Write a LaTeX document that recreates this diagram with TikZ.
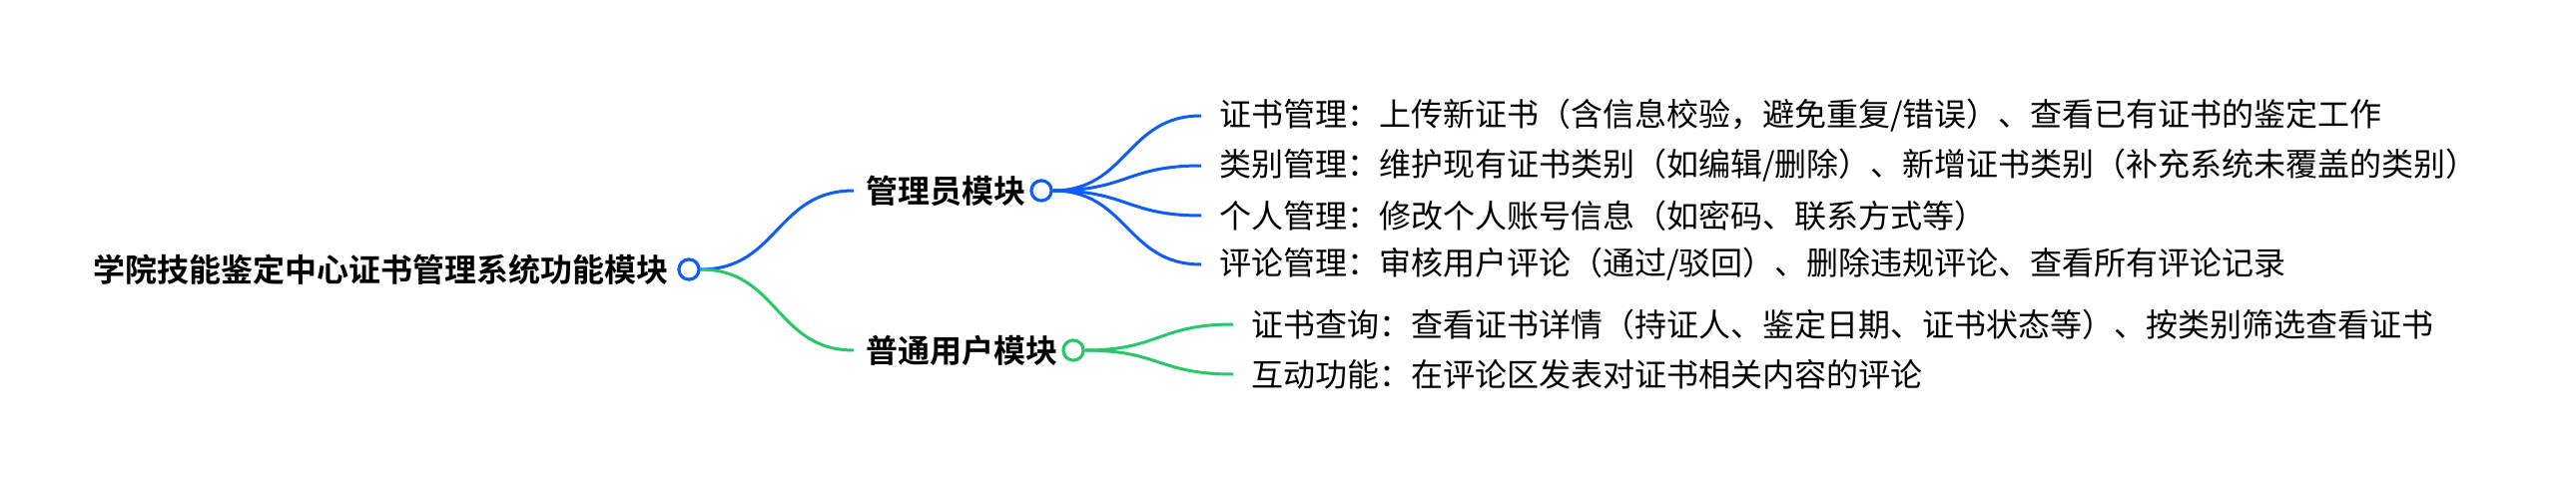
\documentclass[tikz,border=0pt]{standalone}
\usepackage{fontspec}
\setmainfont{Noto Sans CJK SC}[BoldFont={Noto Sans CJK SC Bold}]
\usepackage{xcolor}
\usetikzlibrary{positioning}

\definecolor{mapblue}{RGB}{12,92,255}
\definecolor{mapgreen}{RGB}{40,199,106}

\begin{document}
\begin{tikzpicture}[
  x=0.5pt, y=-0.5pt,
  roottext/.style={inner sep=0pt, anchor=east, font=\bfseries\fontsize{16pt}{18pt}\selectfont},
  branch/.style={inner ysep=0pt, inner xsep=6pt, anchor=west, font=\bfseries\fontsize{16pt}{18pt}\selectfont},
  leaf/.style={inner ysep=0pt, inner xsep=9pt, anchor=west, font=\fontsize{16pt}{18pt}\selectfont},
  dot/.style={circle, draw=#1, fill=white, line width=1.5pt, minimum size=10pt, inner sep=0pt},
  link/.style={draw=#1, line width=1.5pt}
]
\useasboundingbox (0,0) rectangle (2580,492);

\node[roottext] (root) at (670,270) {学院技能鉴定中心证书管理系统功能模块};
\node[dot=mapblue] (rootdot) at (690,270) {};

\node[branch] (admin) at (855,191) {管理员模块};
\node[dot=mapblue] (admindot) at (1043,191) {};
\node[branch] (user) at (855,351) {普通用户模块};
\node[dot=mapgreen] (userdot) at (1075,351) {};

\node[leaf] (cert) at (1203,116) {证书管理：上传新证书（含信息校验，避免重复/错误）、查看已有证书的鉴定工作};
\node[leaf] (kind) at (1203,166) {类别管理：维护现有证书类别（如编辑/删除）、新增证书类别（补充系统未覆盖的类别）};
\node[leaf] (self) at (1203,216) {个人管理：修改个人账号信息（如密码、联系方式等）};
\node[leaf] (review) at (1203,265) {评论管理：审核用户评论（通过/驳回）、删除违规评论、查看所有评论记录};
\node[leaf] (query) at (1235,325) {证书查询：查看证书详情（持证人、鉴定日期、证书状态等）、按类别筛选查看证书};
\node[leaf] (talk) at (1235,375) {互动功能：在评论区发表对证书相关内容的评论};

% root to modules
\draw[link=mapblue] (rootdot.east) .. controls +(78,0) and +(-78,0) .. (admin.west);
\draw[link=mapgreen] (rootdot.east) .. controls +(78,0) and +(-78,0) .. (user.west);

% modules to functions
\draw[link=mapblue] (admindot.east) .. controls +(75,0) and +(-75,0) .. (cert.west);
\draw[link=mapblue] (admindot.east) .. controls +(75,0) and +(-75,0) .. (kind.west);
\draw[link=mapblue] (admindot.east) .. controls +(75,0) and +(-75,0) .. (self.west);
\draw[link=mapblue] (admindot.east) .. controls +(75,0) and +(-75,0) .. (review.west);
\draw[link=mapgreen] (userdot.east) .. controls +(75,0) and +(-75,0) .. (query.west);
\draw[link=mapgreen] (userdot.east) .. controls +(75,0) and +(-75,0) .. (talk.west);

% redraw dots over line ends
\node[dot=mapblue] at (rootdot) {};
\node[dot=mapblue] at (admindot) {};
\node[dot=mapgreen] at (userdot) {};
\end{tikzpicture}
\end{document}
